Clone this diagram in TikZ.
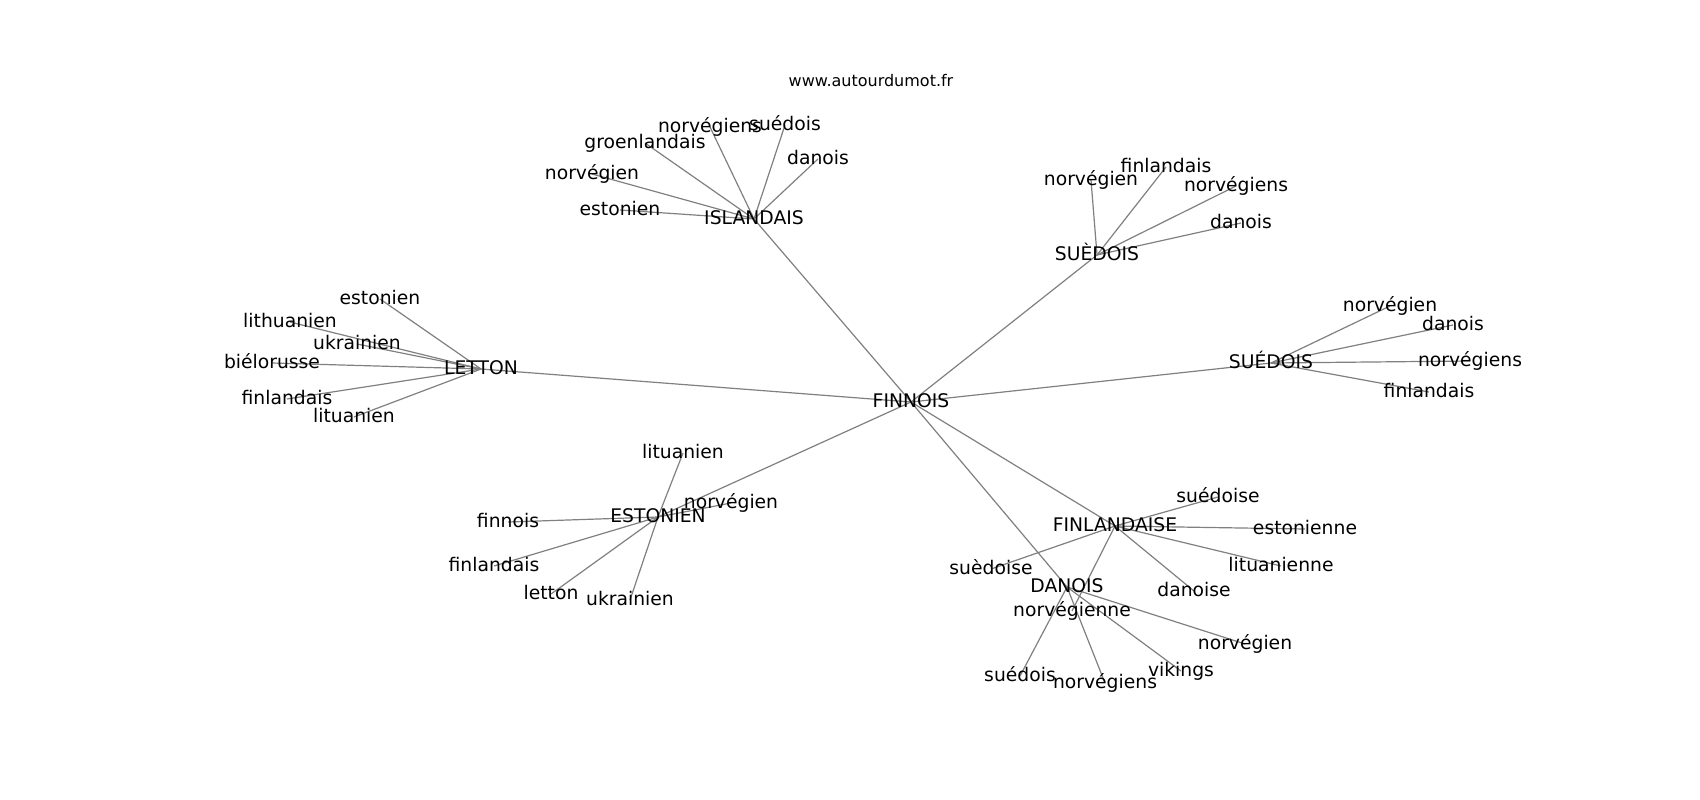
\documentclass[tikz,border=0pt]{standalone}
\usepackage{fontspec}
\setmainfont{DejaVu Sans}
\usetikzlibrary{backgrounds}
\begin{document}
\begin{tikzpicture}[x=1pt,y=-1pt,
  lbl/.style={inner sep=0pt, outer sep=0pt, anchor=center, font=\fontsize{18.75}{22}\selectfont, text height=14.25pt, text depth=3.94pt},
  ttl/.style={inner sep=0pt, outer sep=0pt, anchor=center, font=\fontsize{16}{19}\selectfont, text height=12.16pt, text depth=3.36pt},
  link/.style={draw=gray, line width=1.2pt}]
\useasboundingbox (0,0) rectangle (1700,800);
\node[ttl] (title) at (871,82) {www.autourdumot.fr};
% hubs
\node[lbl] (fin) at (911,402) {FINNOIS};
\node[lbl] (isl) at (754,219) {ISLANDAIS};
\node[lbl] (sue1) at (1097,255) {SUÈDOIS};
\node[lbl] (sue2) at (1271,363) {SUÉDOIS};
\node[lbl] (let) at (481,369) {LETTON};
\node[lbl] (est) at (658,517) {ESTONIEN};
\node[lbl] (fla) at (1115,526) {FINLANDAISE};
\node[lbl] (dan) at (1067,587) {DANOIS};
% ISLANDAIS leaves
\node[lbl] (i1) at (710,127) {norvégiens};
\node[lbl] (i2) at (785,125) {suédois};
\node[lbl] (i3) at (645,143) {groenlandais};
\node[lbl] (i4) at (818,159) {danois};
\node[lbl] (i5) at (592,174) {norvégien};
\node[lbl] (i6) at (620,210) {estonien};
% SUÈDOIS leaves
\node[lbl] (a1) at (1091,180) {norvégien};
\node[lbl] (a2) at (1166,167) {finlandais};
\node[lbl] (a3) at (1236,186) {norvégiens};
\node[lbl] (a4) at (1241,223) {danois};
% SUÉDOIS leaves
\node[lbl] (b1) at (1390,306) {norvégien};
\node[lbl] (b2) at (1453,325) {danois};
\node[lbl] (b3) at (1470,361) {norvégiens};
\node[lbl] (b4) at (1429,392) {finlandais};
% LETTON leaves
\node[lbl] (l1) at (380,299) {estonien};
\node[lbl] (l2) at (290,322) {lithuanien};
\node[lbl] (l3) at (357,344) {ukrainien};
\node[lbl] (l4) at (272,363) {biélorusse};
\node[lbl] (l5) at (287,399) {finlandais};
\node[lbl] (l6) at (354,417) {lituanien};
% ESTONIEN leaves
\node[lbl] (e1) at (683,453) {lituanien};
\node[lbl] (e2) at (731,503) {norvégien};
\node[lbl] (e3) at (508,522) {finnois};
\node[lbl] (e4) at (494,566) {finlandais};
\node[lbl] (e5) at (551,594) {letton};
\node[lbl] (e6) at (630,600) {ukrainien};
% FINLANDAISE leaves
\node[lbl] (f1) at (1218,497) {suédoise};
\node[lbl] (f2) at (1305,529) {estonienne};
\node[lbl] (f3) at (1281,566) {lituanienne};
\node[lbl] (f4) at (991,569) {suèdoise};
\node[lbl] (f5) at (1194,591) {danoise};
\node[lbl] (f6) at (1072,611) {norvégienne};
% DANOIS leaves
\node[lbl] (d1) at (1245,644) {norvégien};
\node[lbl] (d2) at (1181,671) {vikings};
\node[lbl] (d3) at (1020,676) {suédois};
\node[lbl] (d4) at (1105,683) {norvégiens};
\begin{scope}[on background layer]
  \fill[white] (0,0) rectangle (1700,800);
  \foreach \h in {isl,sue1,sue2,let,est,fla,dan}
    \draw[link] (fin.center) -- (\h.center);
  \foreach \t in {i1,i2,i3,i4,i5,i6}
    \draw[link] (isl.center) -- (\t.center);
  \foreach \t in {a1,a2,a3,a4}
    \draw[link] (sue1.center) -- (\t.center);
  \foreach \t in {b1,b2,b3,b4}
    \draw[link] (sue2.center) -- (\t.center);
  \foreach \t in {l1,l2,l3,l4,l5,l6}
    \draw[link] (let.center) -- (\t.center);
  \foreach \t in {e1,e2,e3,e4,e5,e6}
    \draw[link] (est.center) -- (\t.center);
  \foreach \t in {f1,f2,f3,f4,f5,f6}
    \draw[link] (fla.center) -- (\t.center);
  \foreach \t in {d1,d2,d3,d4}
    \draw[link] (dan.center) -- (\t.center);
\end{scope}
\end{tikzpicture}
\end{document}
